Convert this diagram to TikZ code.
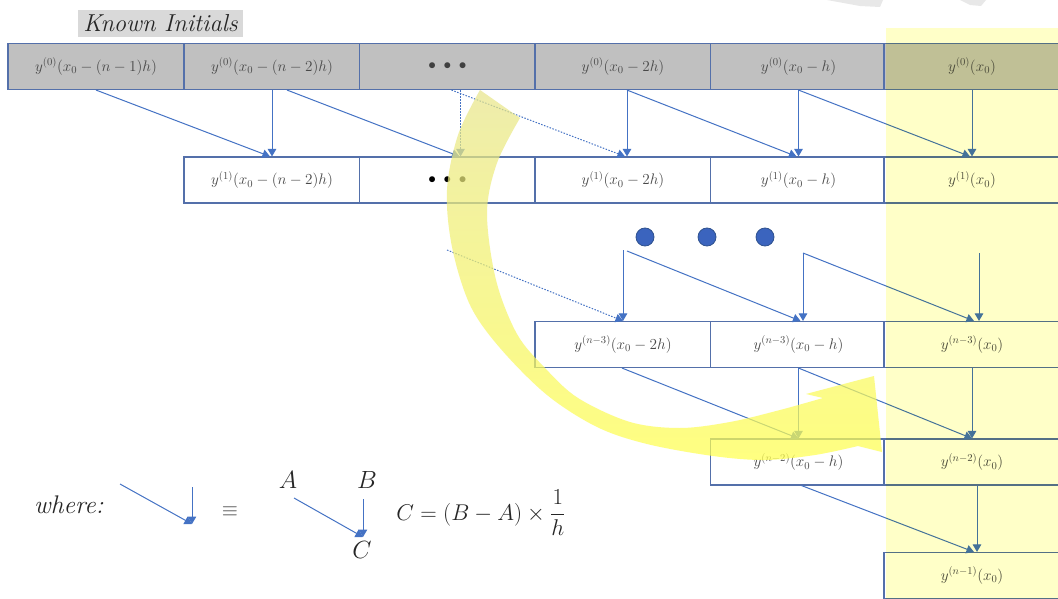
\documentclass[tikz,border=0pt]{standalone}
\usepackage{amsmath}
\usetikzlibrary{arrows.meta,calc}
\definecolor{cellblue}{RGB}{84,112,170}
\definecolor{arrblue}{RGB}{68,114,196}
\definecolor{dotblue}{RGB}{59,100,190}
\definecolor{dotedge}{RGB}{47,82,143}
\definecolor{txtgray}{RGB}{72,72,72}
\definecolor{topgray}{RGB}{192,192,192}
\definecolor{kigray}{RGB}{217,217,217}
\definecolor{colyellow}{RGB}{255,255,200}
\definecolor{bandtop}{RGB}{232,230,140}
\definecolor{bandbot}{RGB}{255,255,80}
\definecolor{wmgray}{RGB}{232,232,232}
\tikzset{
  cell/.style={draw=cellblue, line width=1.1pt, minimum width=176pt, minimum height=46pt,
    inner sep=0pt, text=txtgray, font=\fontsize{14.4}{17}\selectfont},
  celltext/.style={scale=1.06},
  topcell/.style={cell, fill=topgray},
  lowcell/.style={cell, fill=white},
  arr/.style={draw=arrblue, line width=1pt, -{Triangle[width=8.5pt,length=7.5pt]}},
  darr/.style={arr, dash pattern=on 1.5pt off 1.5pt},
  bigdot/.style={circle, fill=dotblue, draw=dotedge, line width=0.8pt, minimum size=18pt, inner sep=0pt},
  legend/.style={font=\fontsize{24}{28}\selectfont, text=black!85, inner sep=0pt},
}
\newcommand{\ct}[1]{\scalebox{1.06}{$#1$}}
\begin{document}
\begin{tikzpicture}[x=1pt,y=-1pt]
\useasboundingbox (0,0) rectangle (1058,599);
\clip (0,0) rectangle (1058,599);
\fill[white] (0,0) rectangle (1058,599);
% faint shapes at the top edge
\fill[wmgray] (827,0) -- (883,0) -- (880,7) -- (860,6) -- cycle;
\fill[wmgray] (960,0) -- (986,0) -- (981,6) -- (970,5) -- cycle;
% title
\node[fill=kigray, minimum width=165pt, minimum height=27pt, inner sep=0pt,
  font=\fontsize{24.5}{27}\selectfont\itshape, text=black!85] (ki) at (160.5,23.5) {Known Initials};
% top row
\node[topcell] (t1) at (96,66.5) {\ct{y^{(0)}(x_0-(n-1)h)}};
\node[topcell] (t2) at (272,66.5) {\ct{y^{(0)}(x_0-(n-2)h)}};
\node[topcell, text=black!75] (t3) at (447.5,66.5) {\ct{\bullet\;\bullet\;\bullet}};
\node[topcell] (t4) at (623,66.5) {\ct{y^{(0)}(x_0-2h)}};
\node[topcell] (t5) at (798.5,66.5) {\ct{y^{(0)}(x_0-h)}};
\node[topcell] (t6) at (972,66.5) {\ct{y^{(0)}(x_0)}};
% row 1
\node[lowcell] (r2) at (272,180) {\ct{y^{(1)}(x_0-(n-2)h)}};
\node[lowcell, text=black] (r3) at (447.5,180) {\ct{\bullet\;\bullet\;\bullet}};
\node[lowcell] (r4) at (623,180) {\ct{y^{(1)}(x_0-2h)}};
\node[lowcell] (r5) at (798.5,180) {\ct{y^{(1)}(x_0-h)}};
\node[lowcell] (r6) at (972,180) {\ct{y^{(1)}(x_0)}};
% row n-3
\node[lowcell] (m4) at (623,344.5) {\ct{y^{(n-3)}(x_0-2h)}};
\node[lowcell] (m5) at (798.5,344.5) {\ct{y^{(n-3)}(x_0-h)}};
\node[lowcell] (m6) at (972,344.5) {\ct{y^{(n-3)}(x_0)}};
% row n-2
\node[lowcell] (n5) at (798.5,462) {\ct{y^{(n-2)}(x_0-h)}};
\node[lowcell] (n6) at (972,462) {\ct{y^{(n-2)}(x_0)}};
% row n-1
\node[lowcell] (p6) at (972,575.5) {\ct{y^{(n-1)}(x_0)}};
% big dots
\node[bigdot] (d1) at (645,237) {};
\node[bigdot] (d2) at (707,237) {};
\node[bigdot] (d3) at (765,237) {};
% arrows top -> row 1
\draw[arr] (t1.south) -- ($(r2.north)+(-2,0)$);
\draw[arr] (t2.south) -- (r2.north);
\draw[arr] ($(t2.south)+(15,0)$) -- ($(r3.north)+(12,0)$);
\draw[darr] ($(t3.south)+(13,0)$) -- ($(r3.north)+(13,0)$);
\draw[darr] ($(t3.south)+(4,0)$) -- ($(r4.north)+(2,0)$);
\draw[arr] ($(t4.south)+(4,0)$) -- ($(r4.north)+(4,0)$);
\draw[arr] ($(t4.south)+(4,0)$) -- ($(r5.north)+(-2,0)$);
\draw[arr] (t5.south) -- (r5.north);
\draw[arr] (t5.south) -- ($(r6.north)+(-2,0)$);
\draw[arr] (t6.south) -- (r6.north);
% arrows into row n-3
\coordinate (f3) at (447,250);
\coordinate (f4) at (623,250);
\coordinate (f4b) at (627,251);
\coordinate (f5) at (803,253);
\coordinate (f6) at (979,253);
\draw[darr] (f3) -- (m4.north);
\draw[arr] (f4) -- (m4.north);
\draw[arr] (f4b) -- ($(m5.north)+(2,0)$);
\draw[arr] (f5) -- ($(m5.north)+(4.5,0)$);
\draw[arr] (f5) -- ($(m6.north)+(2,0)$);
\draw[arr] (f6) -- ($(m6.north)+(7,0)$);
% arrows into row n-2
\draw[arr] ($(m4.south)+(-1,0)$) -- (n5.north);
\draw[arr] (m5.south) -- (n5.north);
\draw[arr] (m5.south) -- (n6.north);
\draw[arr] (m6.south) -- (n6.north);
% arrows into row n-1
\draw[arr] ($(n5.south)+(3,0)$) -- ($(p6.north)+(2,0)$);
\draw[arr] ($(n6.south)+(5,0)$) -- ($(p6.north)+(5,0)$);
% curved yellow arrow
\shade[top color=bandtop, bottom color=bandbot, fill opacity=0.72]
  plot[smooth, tension=0.55] coordinates {(480,90) (458,135) (447,190) (452,247) (470,305) (500,348) (547,395) (597,427) (647,444) (713,456) (765,460) (815,455) (858,446)}
  -- (882,452) -- (874,376) -- (806,394)
  -- plot[smooth, tension=0.55] coordinates {(823,398) (780,410) (730,422) (680,428) (630,422) (578,398) (545,368) (517,334) (496,280) (487,213) (497,163) (520,118)}
  -- cycle;
% yellow column
\begin{scope}[blend mode=multiply]
\fill[colyellow] (886,28) rectangle (1058,599);
\end{scope}
% legend
\node[legend, anchor=west, font=\fontsize{25.5}{28}\selectfont\itshape] (wh) at (34,505) {where:};
\coordinate (la) at (120,484);
\coordinate (lb) at (192,487);
\coordinate (lc) at (192,524);
\draw[arr] (la) -- (lc);
\draw[arr] (lb) -- (lc);
\node[legend, text=txtgray, font=\fontsize{20}{24}\selectfont] (eq) at (230,512) {$\equiv$};
\node[legend] (A) at (288,480) {$A$};
\node[legend] (B) at (367,480) {$B$};
\node[legend] (C) at (362,550) {$C$};
\coordinate (la2) at (294,498);
\coordinate (lb2) at (363,499);
\coordinate (lc2) at (363,537);
\draw[arr] (la2) -- (lc2);
\draw[arr] (lb2) -- (lc2);
\node[legend, font=\fontsize{20.74}{25}\selectfont] (fm) at (481,513) {\scalebox{1.1}{$C=(B-A)\times\dfrac{1}{h}$}};
\end{tikzpicture}
\end{document}
